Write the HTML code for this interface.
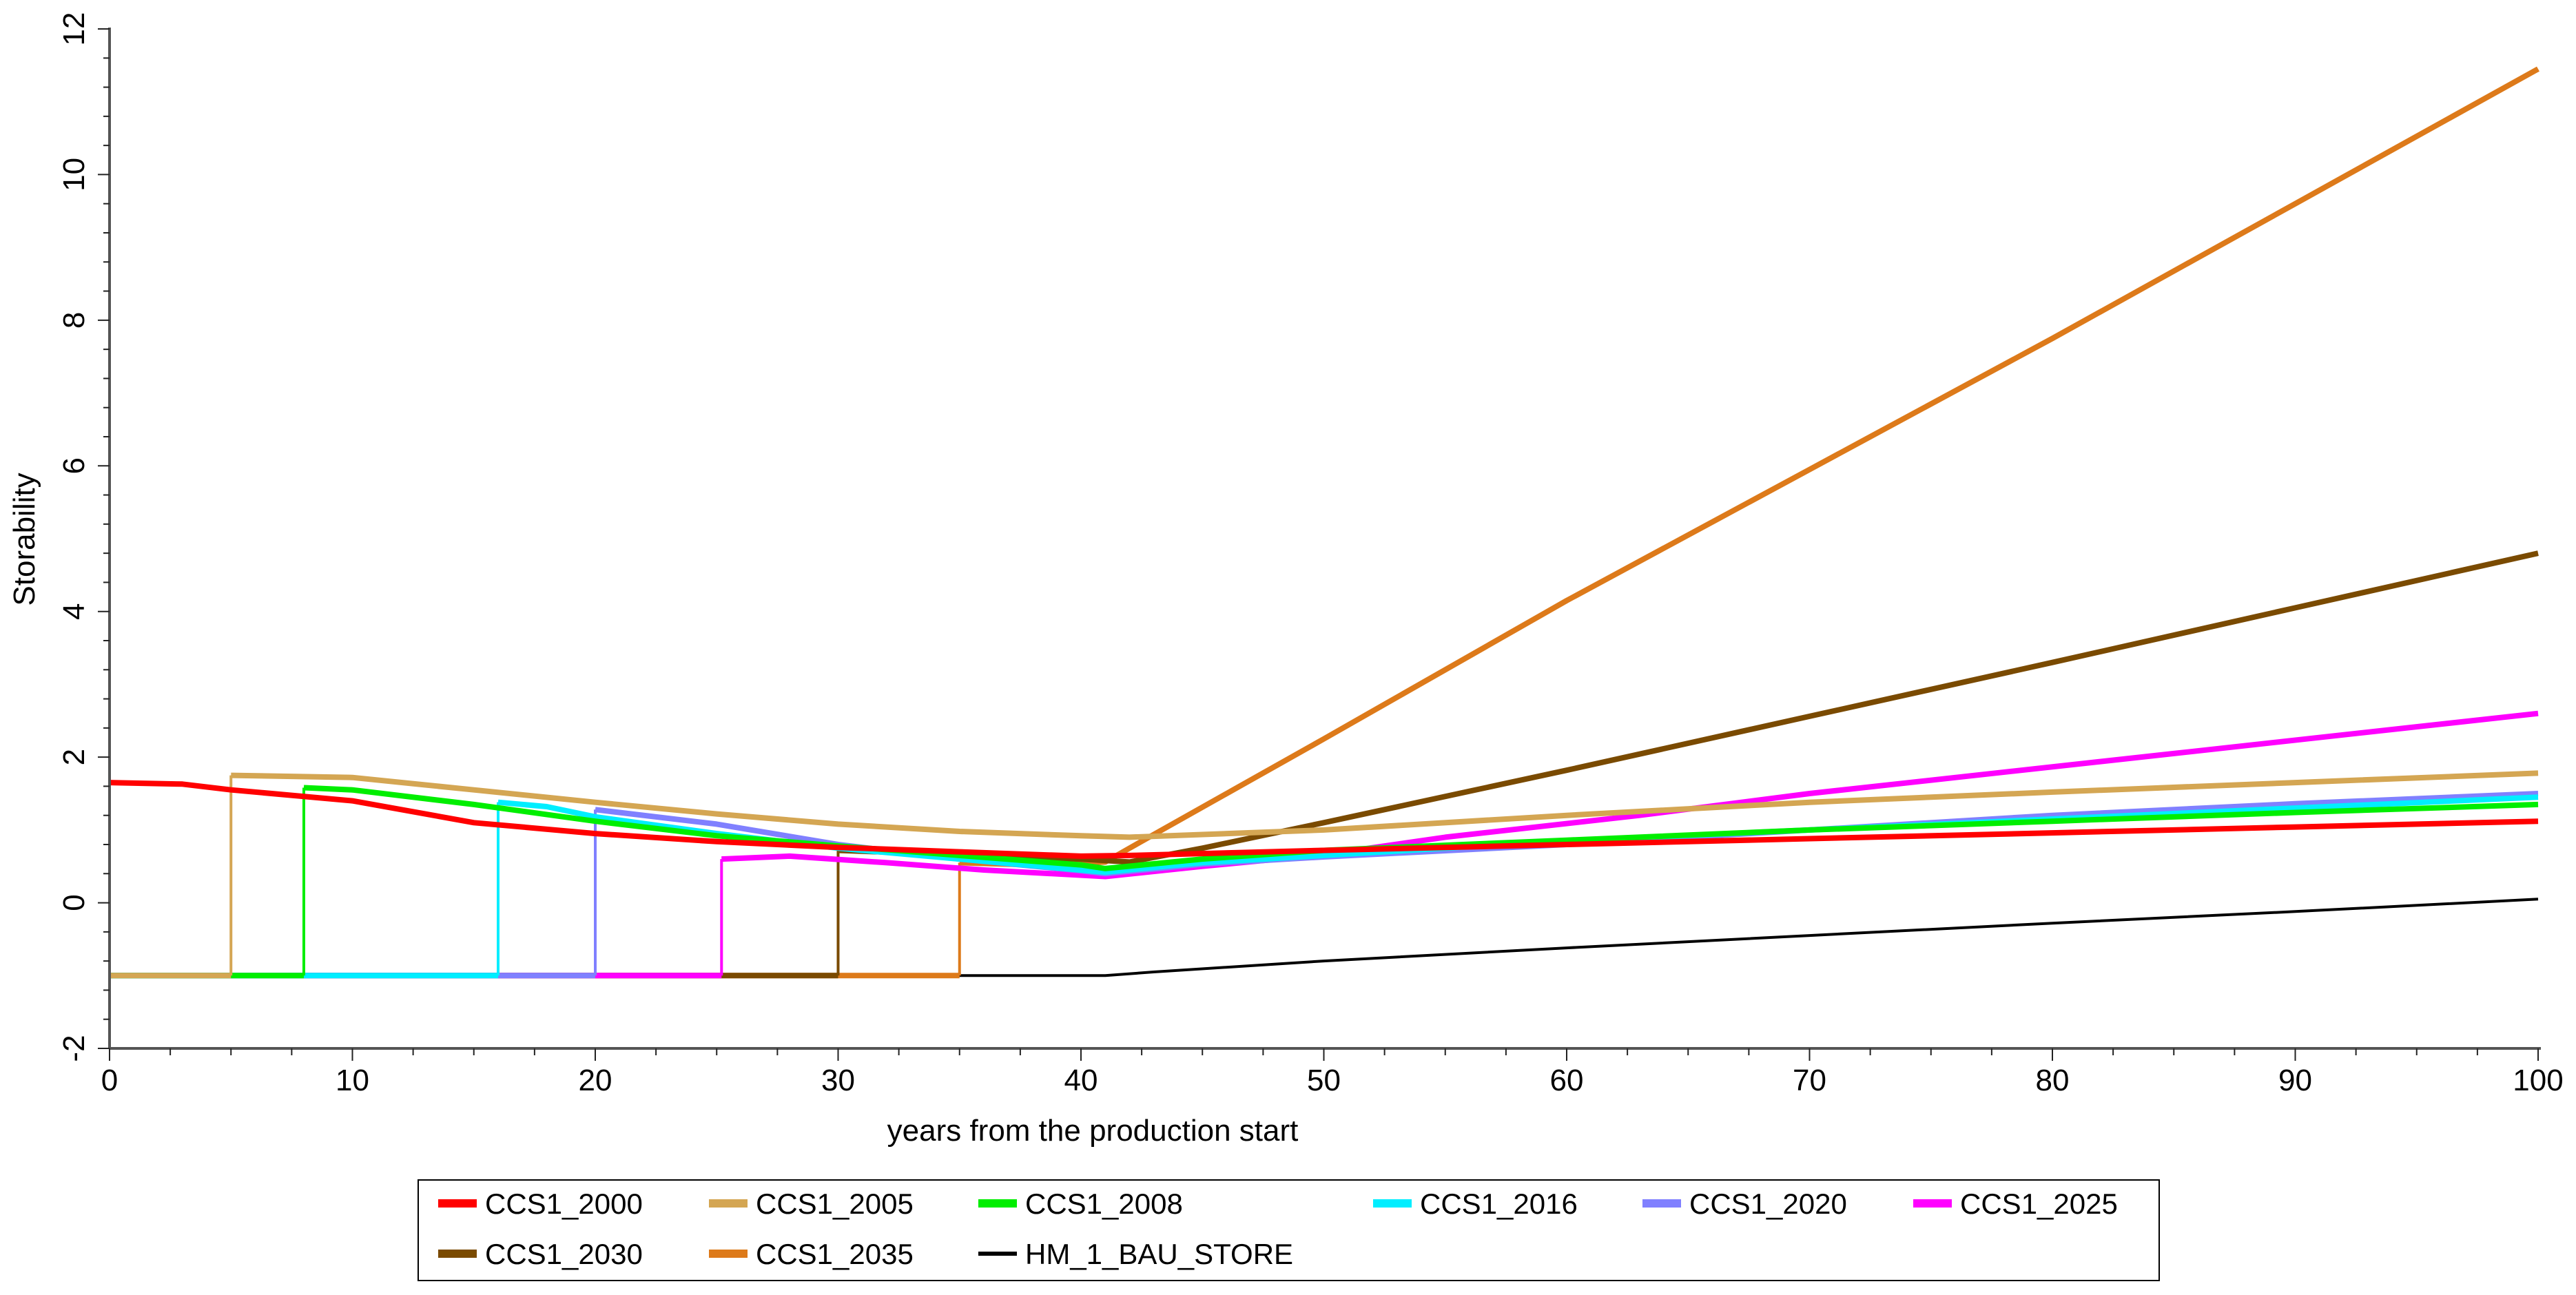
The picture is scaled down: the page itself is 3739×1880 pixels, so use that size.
<!DOCTYPE html>
<html><head><meta charset="utf-8"><style>
html,body{margin:0;padding:0;background:#fff;width:3739px;height:1880px;overflow:hidden}
svg{display:block}
text{font-family:"Liberation Sans",sans-serif;fill:#000}
</style></head><body>
<svg id="chart" width="3739" height="1880" viewBox="0 0 3739 1880" xmlns="http://www.w3.org/2000/svg">
<g id="grid"></g>
<g id="series"></g>
<g id="axes"></g>
<text x="0" y="0" transform="translate(50,783) rotate(-90)" font-size="44" text-anchor="middle">Storability</text>
<text x="1586" y="1656" font-size="44" text-anchor="middle">years from the production start</text>
<rect x="607" y="1713" width="2527" height="146" fill="#fff" stroke="#000" stroke-width="2"/>
<g id="legend"></g>
</svg>
<script>
const names=["CCS1_2000","CCS1_2005","CCS1_2008","CCS1_2016","CCS1_2020","CCS1_2025","CCS1_2030","CCS1_2035","HM_1_BAU_STORE"];
const colors=["#ff0000","#d4a653","#00ee00","#00eeff","#8080ff","#ff00ff","#7a4a00","#dd7a1a","#000000"];
const startYears=[0,5,8,16,20,25,30,35,0];
const yrs2000=[0,3,5,10,15,20,25,30,35,40,42,50,60,70,80,90,100];
const val2000=[1.65,1.63,1.55,1.4,1.1,0.95,0.84,0.76,0.7,0.64,0.65,0.72,0.8,0.88,0.96,1.04,1.12];
const yrs2005=[5,10,15,20,25,30,35,40,42,50,60,70,80,90,100];
const val2005=[1.75,1.72,1.55,1.38,1.22,1.08,0.98,0.92,0.9,1.0,1.2,1.38,1.52,1.65,1.78];
const yrs2008=[8,10,15,20,25,30,35,40,41,45,50,60,70,80,90,100];
const val2008=[1.58,1.55,1.35,1.12,0.92,0.78,0.65,0.52,0.47,0.6,0.72,0.86,1.0,1.12,1.24,1.35];
const yrs2016=[16,18,20,25,30,35,40,41,45,50,60,70,80,90,100];
const val2016=[1.38,1.32,1.18,0.95,0.75,0.6,0.45,0.42,0.55,0.65,0.85,1.0,1.15,1.3,1.45];
const yrs2020=[20,25,30,35,40,41,45,50,60,70,80,90,100];
const val2020=[1.28,1.08,0.8,0.6,0.44,0.4,0.53,0.63,0.8,1.0,1.2,1.36,1.5];
const yrs2025=[25.2,28,32,36,41,45,50,55,63,70,85,100];
const val2025=[0.6,0.64,0.55,0.45,0.36,0.5,0.66,0.9,1.2,1.5,2.05,2.6];
const yrs2030=[30,35,40,42,45,50,60,70,80,90,100];
const val2030=[0.72,0.66,0.6,0.56,0.75,1.1,1.82,2.56,3.3,4.05,4.8];
const yrs2035=[35,38,41,42,50,60,70,80,90,100];
const val2035=[0.55,0.52,0.56,0.75,2.25,4.15,5.95,7.75,9.6,11.45];
const yrsHM=[0,41,43,50,60,70,80,90,100];
const valHM=[-1,-1,-0.95,-0.8,-0.62,-0.45,-0.28,-0.12,0.05];
const allX=[yrs2000,yrs2005,yrs2008,yrs2016,yrs2020,yrs2025,yrs2030,yrs2035,yrsHM];
const allY=[val2000,val2005,val2008,val2016,val2020,val2025,val2030,val2035,valHM];
const baseVal=-1;
const yTicks=[-2,0,2,4,6,8,10,12];
const xTicks=[0,10,20,30,40,50,60,70,80,90,100];
const X0=159,X1=3684,Y0=1522,Y1=42,xmin=0,xmax=100,ymin=-2,ymax=12;
const sx=v=>X0+(v-xmin)/(xmax-xmin)*(X1-X0);
const sy=v=>Y0-(v-ymin)/(ymax-ymin)*(Y0-Y1);
const NS="http://www.w3.org/2000/svg";
function mk(tag,attrs,parent){const e=document.createElementNS(NS,tag);for(const k in attrs)e.setAttribute(k,attrs[k]);parent.appendChild(e);return e;}
const axes=document.getElementById('axes'),ser=document.getElementById('series'),leg=document.getElementById('legend');
// series (draw in reverse so red is on top)
for(let i=names.length-1;i>=0;i--){
  const g=mk('g',{},ser);
  
  
  const w=i===8?4:8;
  const xs=allX[i],ys=allY[i];
  if(i!==8&&startYears[i]>0){
    const b=mk('line',{x1:sx(0),y1:sy(baseVal),x2:sx(xs[0]),y2:sy(baseVal),stroke:colors[i],'stroke-width':8},g);
    
    
    const r=mk('line',{x1:sx(xs[0]),y1:sy(baseVal),x2:sx(xs[0]),y2:sy(ys[0]),stroke:colors[i],'stroke-width':4},g);
    
    
  }
  let d='';
  for(let k=0;k<xs.length;k++)d+=(k?'L':'M')+sx(xs[k]).toFixed(1)+','+sy(ys[k]).toFixed(1);
  const p=mk('path',{d:d,fill:'none',stroke:colors[i],'stroke-width':w,'stroke-linejoin':'round'},g);
  
  
}
// axes
const ya=mk('line',{x1:X0,y1:Y1-2,x2:X0,y2:Y0,stroke:'#555','stroke-width':4},axes);


const xa=mk('line',{x1:X0,y1:Y0,x2:X1+4,y2:Y0,stroke:'#555','stroke-width':4},axes);


for(let v=ymin;v<=ymax+1e-9;v+=0.4){
  const maj=Math.abs(v/2-Math.round(v/2))<1e-6;
  mk('line',{x1:maj?142:150,y1:sy(v),x2:X0,y2:sy(v),stroke:'#222','stroke-width':2},axes);
}
for(const t of yTicks){
  const tx=mk('text',{transform:`translate(${122},${sy(t)}) rotate(-90)`,'font-size':44,'text-anchor':'middle'},axes);
  tx.textContent=t;
  
  
}
for(let v=xmin;v<=xmax+1e-9;v+=2.5){
  const maj=Math.abs(v/10-Math.round(v/10))<1e-6;
  mk('line',{x1:sx(v),y1:Y0,x2:sx(v),y2:Y0+(maj?18:10),stroke:'#222','stroke-width':2},axes);
}
for(const t of xTicks){
  const tx=mk('text',{x:sx(t),y:1583,'font-size':44,'text-anchor':'middle'},axes);
  tx.textContent=t;
  
  
}
// legend
const lx=[636,1029,1420,1993,2384,2777],ly=[1747,1820];
for(let i=0;i<names.length;i++){
  const col=i<6?i:i-6,row=i<6?0:1;
  const g=mk('g',{},leg);
  
  
  if(i===8)mk('rect',{x:lx[col],y:ly[row]-3,width:56,height:6,fill:colors[i]},g);
  else mk('rect',{x:lx[col],y:ly[row]-6,width:56,height:12,fill:colors[i]},g);
  const t=mk('text',{x:lx[col]+68,y:ly[row]+15,'font-size':42},g);
  t.textContent=names[i];
}
</script>
</body></html>
